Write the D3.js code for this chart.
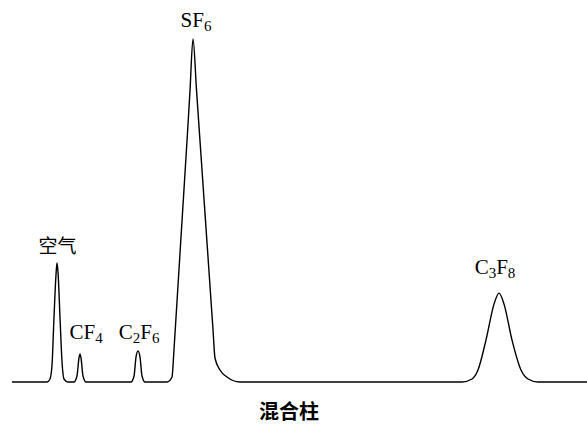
<!DOCTYPE html>
<html>
<head>
<meta charset="utf-8">
<script src="https://cdn.jsdelivr.net/npm/d3@7"></script>
<style>
  body { margin: 0; background: #fff; }
</style>
</head>
<body>
<div id="chart"></div>
<script>
// retention time (min) and detector signal (% of SF6 peak)
const times = [0, 0.609, 0.661, 0.696, 0.730, 0.765, 0.783, 0.800, 0.835, 0.870, 0.904, 0.974,
    1.078, 1.130, 1.165, 1.183, 1.200, 1.235, 1.287,
    2.070, 2.122, 2.157, 2.191, 2.226, 2.261, 2.313,
    2.696, 2.783, 2.817, 3.096, 3.148, 3.209, 3.496, 3.530, 3.617, 3.739, 3.965,
    7.826, 8.000, 8.104, 8.243, 8.383, 8.470, 8.557, 8.696, 8.852, 8.974, 9.148, 10];
const signal = [0, 0, 0.87, 4.96, 18.7, 31.2, 34.7, 32.1, 18.7, 5.83, 0.87, 0,
    0, 1.75, 7.0, 8.16, 7.0, 1.75, 0,
    0, 1.75, 7.3, 9.04, 7.3, 1.75, 0,
    0, 1.46, 9.33, 85.1, 100, 85.1, 15.2, 7.0, 3.5, 1.46, 0,
    0, 0.87, 3.5, 12.2, 22.7, 25.9, 22.7, 12.2, 3.5, 0.87, 0, 0];

// peak labels: name, text parts (subscript or not), retention time, label height (signal)
const peakNames = ["空气", "CF4", "C2F6", "SF6", "C3F8"];
const peakParts = [
    [["空气", false]],
    [["CF", false], ["4", true]],
    [["C", false], ["2", true], ["F", false], ["6", true]],
    [["SF", false], ["6", true]],
    [["C", false], ["3", true], ["F", false], ["8", true]]
];
const peakLabelTimes = [0.79, 1.29, 2.21, 3.20, 8.40];
const peakLabelSignal = [37.6, 12.5, 12.5, 103.5, 31.5];
const axisTitle = "混合柱";

const width = 587, height = 428;

const svg = d3.select("#chart")
    .append("svg")
    .attr("width", width)
    .attr("height", height);

const x = d3.scaleLinear().domain([0, 10]).range([12, 587]);
const y = d3.scaleLinear().domain([0, 100]).range([382, 39]);

const line = d3.line()
    .x((d, i) => x(times[i]))
    .y(d => y(d))
    .curve(d3.curveMonotoneX);

svg.append("path")
    .datum(signal)
    .attr("d", line)
    .attr("fill", "none")
    .attr("stroke", "#000")
    .attr("stroke-width", 1.4)
    .attr("stroke-linejoin", "round");

// peak labels
peakNames.forEach((name, i) => {
    const t = svg.append("text")
        .attr("x", x(peakLabelTimes[i]))
        .attr("y", y(peakLabelSignal[i]))
        .attr("text-anchor", "middle")
        .style("font-family", i === 0 ? "'Noto Sans CJK SC', sans-serif" : "'Liberation Serif', 'Times New Roman', serif")
        .style("font-size", i === 0 ? "19px" : "21px")
        .style("fill", "#000");
    peakParts[i].forEach(([s, sub], j) => {
        const prevSub = j > 0 && peakParts[i][j - 1][1];
        const ts = t.append("tspan").text(s);
        if (sub) ts.attr("dy", 4).style("font-size", "15px");
        else if (prevSub) ts.attr("dy", -4);
    });
});

svg.append("text")
    .attr("x", 289)
    .attr("y", 419)
    .attr("text-anchor", "middle")
    .style("font-family", "'Noto Sans CJK SC', sans-serif")
    .style("font-weight", "bold")
    .style("font-size", "20px")
    .text(axisTitle);
</script>
</body>
</html>
